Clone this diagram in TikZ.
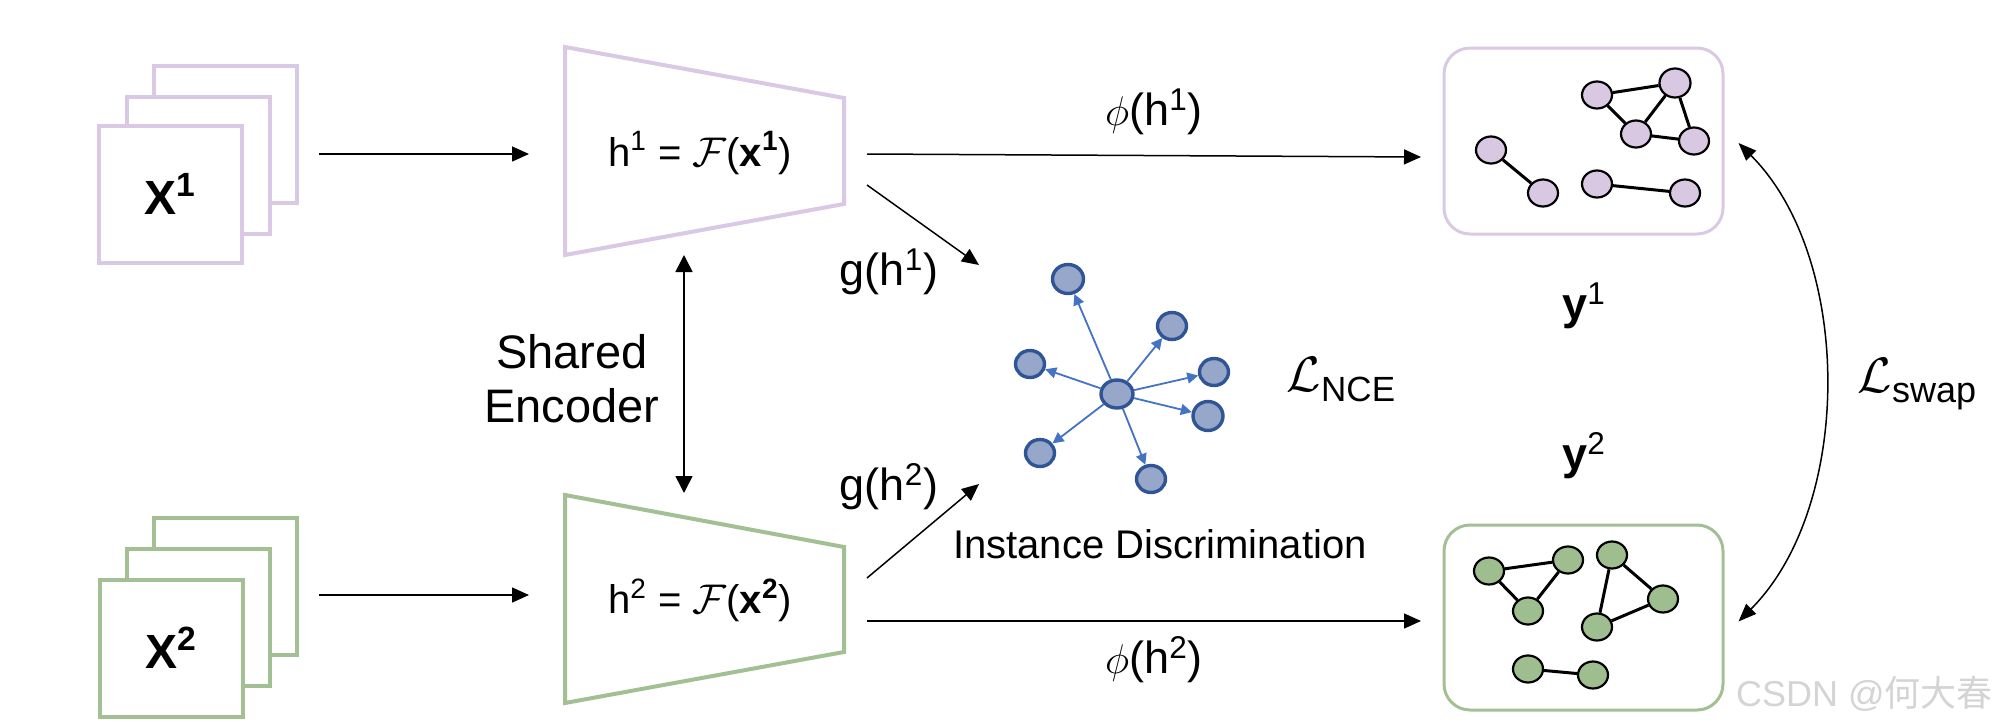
\documentclass[tikz,border=0pt]{standalone}
\usepackage{fontspec}
\usepackage{graphicx}
\setmainfont{Liberation Sans}
\newfontfamily\cjkfont{Noto Sans CJK SC}
\usetikzlibrary{arrows.meta,shapes.geometric}
\definecolor{lpurple}{HTML}{D9C9E4}
\definecolor{lgreen}{HTML}{A2C093}
\definecolor{npurple}{HTML}{D8C8E2}
\definecolor{ngreen}{HTML}{9FBE8F}
\definecolor{sfill}{HTML}{97A7CA}
\definecolor{sdraw}{HTML}{2F5597}
\definecolor{sarrow}{HTML}{4472C4}
\definecolor{wmark}{HTML}{D4D4D4}
\begin{document}
\begin{tikzpicture}[x=0.5pt,y=-0.5pt,
  frameP/.style={draw=lpurple, line width=2pt, fill=white, minimum width=71.5pt, minimum height=68.5pt, inner sep=0pt},
  frameG/.style={draw=lgreen, line width=2pt, fill=white, minimum width=71.5pt, minimum height=68.5pt, inner sep=0pt},
  encP/.style={draw=lpurple, line width=2pt},
  encG/.style={draw=lgreen, line width=2pt},
  gboxP/.style={draw=lpurple, line width=1.5pt, rounded corners=13pt, minimum width=139.5pt, minimum height=93pt},
  gboxG/.style={draw=lgreen, line width=1.5pt, rounded corners=13pt, minimum width=139.5pt, minimum height=92.5pt},
  gnP/.style={ellipse, draw=black, line width=1.1pt, fill=npurple, minimum width=15pt, minimum height=13.5pt, inner sep=0pt},
  gnG/.style={ellipse, draw=black, line width=1.1pt, fill=ngreen, minimum width=15pt, minimum height=13.5pt, inner sep=0pt},
  gedge/.style={line width=1.5pt, black},
  sn/.style={ellipse, draw=sdraw, line width=1.7pt, fill=sfill, minimum width=14.5pt, minimum height=13.5pt, inner sep=0pt},
  sarr/.style={draw=sarrow, line width=0.9pt, -{Triangle[length=5.5pt,width=5.5pt]}},
  arr/.style={line width=0.75pt, -{Triangle[length=8.5pt,width=7.5pt]}},
  darr/.style={line width=0.75pt, {Triangle[length=8.5pt,width=8.5pt]}-{Triangle[length=8.5pt,width=8.5pt]}},
  lab/.style={font=\fontsize{22.5}{26.5}\selectfont, inner sep=0pt},
  enctxt/.style={font=\fontsize{20}{24}\selectfont, inner sep=0pt},
  bigx/.style={font=\fontsize{24}{28}\selectfont\bfseries}
]
\useasboundingbox (0,0) rectangle (1999,728);

% input stacks
\node[frameP] (b1) at (225,134) {};
\node[frameP] (m1) at (198,165) {};
\node[frameP, bigx] (f1) at (170,194) {X\textsuperscript{1}};
\node[frameG] (b2) at (225,586) {};
\node[frameG] (m2) at (198,617) {};
\node[frameG, bigx] (f2) at (171,648) {X\textsuperscript{2}};

% encoders
\coordinate (e1a) at (565,47);
\coordinate (e1b) at (844,98);
\coordinate (e1c) at (844,204);
\coordinate (e1d) at (565,255);
\draw[encP] (e1a) -- (e1b) -- (e1c) -- (e1d) -- cycle;
\node[enctxt] (enc1) at (700,153) {h\textsuperscript{1} = $\mathcal{F}$(\textbf{x}\textsuperscript{\textbf{1}})};
\coordinate (e2a) at (565,495);
\coordinate (e2b) at (844,547);
\coordinate (e2c) at (844,652);
\coordinate (e2d) at (565,703);
\draw[encG] (e2a) -- (e2b) -- (e2c) -- (e2d) -- cycle;
\node[enctxt] (enc2) at (700,600) {h\textsuperscript{2} = $\mathcal{F}$(\textbf{x}\textsuperscript{\textbf{2}})};

% input arrows
\coordinate (i1s) at (319,154);
\coordinate (i1e) at (529,154);
\coordinate (i2s) at (319,595);
\coordinate (i2e) at (529,595);
\draw[arr] (i1s) -- (i1e);
\draw[arr] (i2s) -- (i2e);

% shared encoder
\coordinate (sh1) at (684,255);
\coordinate (sh2) at (684,493);
\draw[darr] (sh1) -- (sh2);
\node[lab, align=center, font=\fontsize{23.5}{27}\selectfont] (shared) at (572,379) {Shared\\Encoder};

% graph boxes
\node[gboxP] (gb1) at (1583.5,141) {};
\node[gboxG] (gb2) at (1583.5,617.5) {};

% phi arrows
\coordinate (p1s) at (867,154);
\coordinate (p1e) at (1421,157);
\coordinate (p2s) at (867,621);
\coordinate (p2e) at (1421,621);
\draw[arr] (p1s) -- (p1e);
\draw[arr] (p2s) -- (p2e);
\node[lab] (phi1) at (1154,112) {$\phi$(h\textsuperscript{1})};
\node[lab] (phi2) at (1154,660) {$\phi$(h\textsuperscript{2})};

% g arrows
\coordinate (g1s) at (867,185);
\coordinate (g1e) at (979,265);
\coordinate (g2s) at (867,578);
\coordinate (g2e) at (979,484);
\draw[arr] (g1s) -- (g1e);
\draw[arr] (g2s) -- (g2e);
\node[lab] (glab1) at (889,272) {g(h\textsuperscript{1})};
\node[lab] (glab2) at (889,487) {g(h\textsuperscript{2})};

% star
\node[sn, minimum width=16pt, minimum height=14pt] (c) at (1117,394) {};
\node[sn, minimum width=15.5pt, minimum height=14.5pt] (s1) at (1068,279) {};
\node[sn] (s2) at (1172,326) {};
\node[sn] (s3) at (1030,364) {};
\node[sn] (s4) at (1214,372) {};
\node[sn, minimum width=15pt, minimum height=14.5pt] (s5) at (1208,416) {};
\node[sn] (s6) at (1040,453) {};
\node[sn] (s7) at (1151,479) {};
\foreach \t in {s1,s2,s3,s4,s5,s6,s7} \draw[sarr] (c) -- (\t);
\node[enctxt] (inst) at (1160,544) {Instance Discrimination};
\node[inner sep=0pt] (lnce) at (1341,380) {{\fontsize{27}{30}\selectfont$\mathcal{L}$}\raisebox{-5pt}{\fontsize{17.5}{21}\selectfont NCE}};

% top graph
\node[gnP] (A) at (1597,95) {};
\node[gnP, minimum width=15.5pt, minimum height=14.5pt] (B) at (1675,83) {};
\node[gnP] (C) at (1636,134) {};
\node[gnP] (D) at (1694,141) {};
\node[gnP] (E) at (1491,150) {};
\node[gnP] (F) at (1543,193) {};
\node[gnP] (G) at (1597,184) {};
\node[gnP] (H) at (1685,193) {};
\draw[gedge] (A) -- (B) (A) -- (C) (B) -- (C) (B) -- (D) (C) -- (D) (E) -- (F) (G) -- (H);

% bottom graph
\node[gnG] (ga) at (1489,571) {};
\node[gnG] (gbb) at (1568,560) {};
\node[gnG] (gc) at (1528,611) {};
\node[gnG] (gd) at (1612,555) {};
\node[gnG] (ge) at (1663,599) {};
\node[gnG] (gf) at (1597,627) {};
\node[gnG] (gg) at (1528,669) {};
\node[gnG] (gh) at (1593,675) {};
\draw[gedge] (ga) -- (gbb) (ga) -- (gc) (gbb) -- (gc) (gd) -- (ge) (gd) -- (gf) (ge) -- (gf) (gg) -- (gh);

% y labels
\node[lab] (y1) at (1584,306) {\textbf{y}\textsuperscript{1}};
\node[lab] (y2) at (1584,456) {\textbf{y}\textsuperscript{2}};

% swap curve
\draw[line width=0.75pt, {Triangle[length=9pt,width=7pt]}-{Triangle[length=9pt,width=7pt]}]
  ([xshift=7pt,yshift=-1pt]gb1.east) .. controls +(115,115) and +(115,-115) .. ([xshift=7pt,yshift=-2pt]gb2.east);
\node[inner sep=0pt] (lswap) at (1917,384) {{\fontsize{27}{30}\selectfont$\mathcal{L}$}\raisebox{-5pt}{\fontsize{18}{21}\selectfont swap}};

% watermark
\node[anchor=base east, inner sep=0pt, text=wmark, font=\fontsize{18}{20}\selectfont] (wm) at (1993,706) {CSDN @{\cjkfont 何大春}};
\end{tikzpicture}
\end{document}
